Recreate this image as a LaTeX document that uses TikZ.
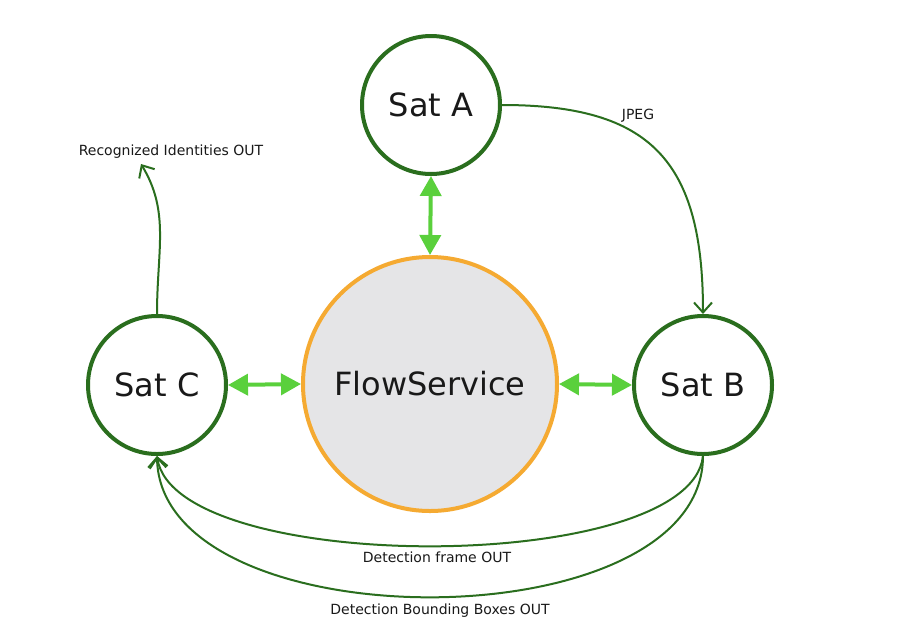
\documentclass[tikz,border=0pt]{standalone}
\usepackage{fontspec}
\setmainfont{DejaVu Sans}
\usetikzlibrary{arrows.meta}
\definecolor{darkgreen}{RGB}{42,110,30}
\definecolor{litegreen}{RGB}{90,208,60}
\definecolor{flowfill}{RGB}{229,229,231}
\definecolor{flowedge}{RGB}{245,170,50}
\definecolor{txt}{RGB}{25,25,25}
\tikzset{
  sat/.style={circle, draw=darkgreen, line width=4pt, fill=white, minimum size=138pt, inner sep=0pt, text=txt, font=\fontsize{32}{36}\selectfont},
  flow/.style={circle, draw=flowedge, line width=4pt, fill=flowfill, minimum size=254pt, inner sep=0pt, text=txt, font=\fontsize{32}{36}\selectfont},
  link/.style={draw=litegreen, line width=4pt, {Triangle[length=20pt,width=21pt]}-{Triangle[length=20pt,width=21pt]}},
  data/.style={draw=darkgreen, line width=2pt, -{Straight Barb[length=10pt,width=18pt,line width=2pt]}},
  lbl/.style={text=txt, font=\fontsize{14}{16}\selectfont, inner sep=0pt}
}
\begin{document}
\begin{tikzpicture}[x=1pt,y=-1pt]
\useasboundingbox[fill=white] (0,0) rectangle (924,622);
\node[sat] (satA) at (431,105) {Sat A};
\node[flow] (flow) at (430,384) {FlowService};
\node[sat] (satC) at (157,385) {Sat C};
\node[sat] (satB) at (703,385) {Sat B};
\coordinate (recog) at (141,164);
\draw[link] (satA.south) -- (flow.north);
\draw[link] (satC.east) -- (flow.west);
\draw[link] (flow.east) -- (satB.west);
\draw[data] (satA.east) .. controls (650,105) and (703,160) .. (satB.north);
\draw[data] (satC.north) .. controls (157,250) and (170,212) .. (recog);
\draw[data] (satB.south) .. controls (690,576) and (175,576) .. (satC.south);
\draw[data] (satB.south) .. controls (703,644) and (160,644) .. (satC.south);
\node[lbl] (jpeg) at (638,116) {JPEG};
\node[lbl] (recl) at (171,152) {Recognized Identities OUT};
\node[lbl] (dfo) at (437,557) {Detection frame OUT};
\node[lbl] (dbb) at (440,611) {Detection Bounding Boxes OUT};
\end{tikzpicture}
\end{document}
